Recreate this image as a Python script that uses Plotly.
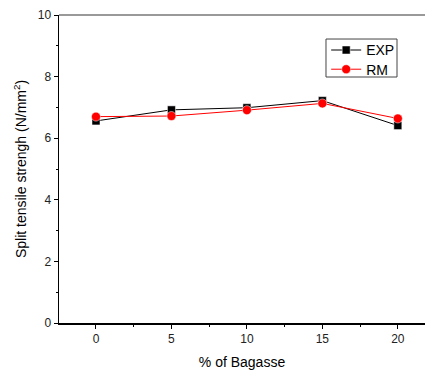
import plotly.graph_objects as go

bagasse = [0, 5, 10, 15, 20]
exp_vals = [6.56, 6.92, 6.99, 7.22, 6.41]
rm_vals = [6.70, 6.72, 6.91, 7.13, 6.64]
y_ticks = [0, 2, 4, 6, 8, 10]
x_ticks = [0, 5, 10, 15, 20]

fig = go.Figure()
fig.add_trace(go.Scatter(
    x=bagasse, y=exp_vals, name="EXP", mode="lines+markers",
    line=dict(color="black", width=1),
    marker=dict(symbol="square", size=8, color="black", line=dict(color="white", width=0.5)),
))
fig.add_trace(go.Scatter(
    x=bagasse, y=rm_vals, name="RM", mode="lines+markers",
    line=dict(color="red", width=1),
    marker=dict(symbol="circle", size=9, color="red", line=dict(color="white", width=0.5)),
))

fig.update_layout(
    width=425, height=372,
    margin=dict(l=59, r=0, t=15, b=49),
    paper_bgcolor="white", plot_bgcolor="white",
    font=dict(family="Arial, Liberation Sans, sans-serif", size=12, color="#222"),
    showlegend=True,
    legend=dict(
        x=0.73, y=0.937, xanchor="left", yanchor="top",
        borderwidth=0, bgcolor="rgba(0,0,0,0)",
        font=dict(size=14, color="black"),
        itemwidth=30, tracegroupgap=0, entrywidthmode="pixels",
        valign="middle",
    ),
    xaxis=dict(
        range=[-2.45, 21.8], tickvals=x_ticks, showgrid=False, zeroline=False,
        showline=True, linecolor="black", linewidth=1.5,
        ticks="outside", ticklen=4, tickcolor="black",
        minor=dict(tickvals=[2.5, 7.5, 12.5, 17.5], ticks="outside", ticklen=2, tickcolor="black"),
        title=dict(text="% of Bagasse", font=dict(size=14, color="black"), standoff=12),
    ),
    yaxis=dict(
        range=[0, 10], tickvals=y_ticks, showgrid=False, zeroline=False,
        showline=True, linecolor="black", linewidth=1.5,
        ticks="outside", ticklen=4, tickcolor="black",
        minor=dict(tickvals=[1, 3, 5, 7, 9], ticks="outside", ticklen=2, tickcolor="black"),
        title=dict(text="Split tensile strengh (N/mm<sup>2</sup>)", font=dict(size=14, color="black"), standoff=8),
    ),
    shapes=[
        dict(type="line", xref="paper", yref="paper", x0=0, x1=1, y0=1, y1=1,
             line=dict(color="#777", width=1.5)),
        dict(type="rect", xref="paper", yref="paper", x0=0.7295, x1=0.9235, y0=0.7987, y1=0.922,
             line=dict(color="#444", width=1), layer="below"),
    ],
)

post = """
document.body.style.margin='0';
document.body.style.overflow='hidden';
var gd = document.querySelector('.plotly-graph-div');
var items = gd.querySelectorAll('.legend .traces');
if (items.length > 1) {
  var t = items[1].getAttribute('transform');
  var m = /translate\\(([-\\d.]+),\\s*([-\\d.]+)\\)/.exec(t);
  if (m) { items[1].setAttribute('transform', 'translate(' + m[1] + ',' + (parseFloat(m[2]) - 2) + ')'); }
}
"""
fig.write_html("out.html", config={"displayModeBar": False, "staticPlot": True}, post_script=post)
